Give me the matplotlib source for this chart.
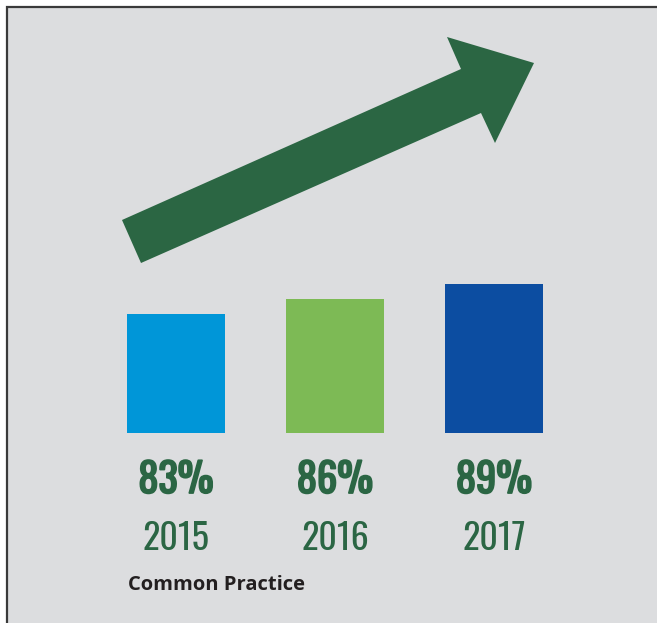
import matplotlib
matplotlib.use("Agg")
import matplotlib.pyplot as plt
import matplotlib.patheffects as pe
from matplotlib.patches import Polygon, Rectangle
from matplotlib.transforms import blended_transform_factory

# data
years = ["2015", "2016", "2017"]
values = [83, 86, 89]
bar_colors = ["#0096d8", "#7dba55", "#0c4da1"]
caption = "Common Practice"

green = "#2b6644"
bg = "#dcdddf"

W, H = 657, 623
fig = plt.figure(figsize=(W / 100, H / 100), dpi=100, facecolor="white")

# full-figure overlay in pixel coords (y down)
bg_ax = fig.add_axes([0, 0, 1, 1])
bg_ax.set_xlim(0, W)
bg_ax.set_ylim(H, 0)
bg_ax.axis("off")
bg_ax.add_patch(Rectangle((7, 7), W, H, facecolor=bg, edgecolor="none"))
bg_ax.plot([7, 7, W], [H, 7, 7], color="#3a3a3a", lw=1.6, solid_joinstyle="miter")

# arrow shape
arrow = [(122, 220), (461, 69), (447, 37), (534, 63), (495, 143), (481, 113), (141, 263)]
bg_ax.add_patch(Polygon(arrow, closed=True, facecolor="#2b6643", edgecolor="none"))

# bars
ax = fig.add_axes([96.5 / W, (H - 433) / H, 477 / W, 200 / H])
ax.patch.set_alpha(0)
base = 59.1
x = range(len(values))
ax.bar(x, [v - base for v in values], bottom=base, width=0.616, color=bar_colors)
ax.set_xlim(-0.5, 2.5)
ax.set_ylim(base, base + 40)
ax.axis("off")

bold = [pe.withStroke(linewidth=1.3, foreground=green)]
tr = blended_transform_factory(ax.transData, bg_ax.transData)
for i, (yr, v) in enumerate(zip(years, values)):
    ax.text(i, 493, f"{v}%", transform=tr, ha="center", va="baseline",
            fontsize=29, color=green, family="Oswald", path_effects=bold)
    ax.text(i, 550, yr, transform=tr, ha="center", va="baseline",
            fontsize=26, color=green, family="Oswald")

bg_ax.text(128, 585, caption, ha="left", va="center", fontsize=14.5,
           fontweight="bold", color="#231f20", family="Open Sans")

fig.savefig("out.png", dpi=100, facecolor="white")
